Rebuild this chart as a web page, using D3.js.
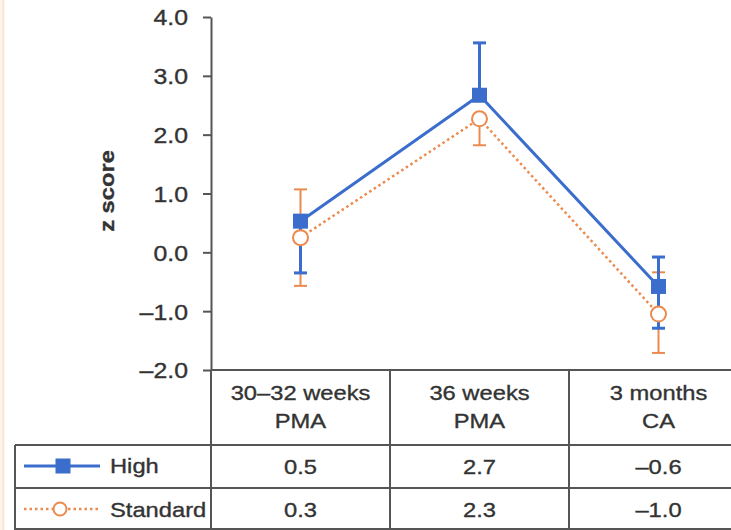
<!DOCTYPE html>
<html>
<head>
<meta charset="utf-8">
<script src="https://cdn.jsdelivr.net/npm/d3@7"></script>
<style>
  html, body { margin: 0; padding: 0; background: #ffffff; }
  svg { display: block; }
</style>
</head>
<body>
<svg id="chart" width="731" height="530"></svg>
<script>
// ---- data ----
const catLine1 = ["30–32 weeks", "36 weeks", "3 months"];
const catLine2 = ["PMA", "PMA", "CA"];
const categories = ["c1", "c2", "c3"];
const highValues = [0.53, 2.67, -0.58];
const highLower  = [-0.35, null, -1.29];
const highUpper  = [null, 3.56, -0.08];
const stdValues  = [0.25, 2.27, -1.05];
const stdLower   = [-0.57, 1.82, -1.71];
const stdUpper   = [1.07, null, -0.34];
const highLabels = ["0.5", "2.7", "–0.6"];
const stdLabels  = ["0.3", "2.3", "–1.0"];
const yTicks = [-2, -1, 0, 1, 2, 3, 4];
const seriesNames = ["High", "Standard"];

// ---- style ----
const BLUE = "#3b6dcc";
const ORANGE = "#ec8a4e";
const AXIS = "#555555";
const TEXT = "#333333";
const FONT = "'Liberation Sans', Arial, Helvetica, sans-serif";
const SX = 1.13;

const svg = d3.select("#chart");

// faint left page edge
svg.append("rect").attr("x", 0).attr("y", 0).attr("width", 5).attr("height", 530).attr("fill", "#fdf4ec");
svg.append("line").attr("x1", 3).attr("x2", 3).attr("y1", 0).attr("y2", 530)
  .attr("stroke", "#f4dcc8").attr("stroke-width", 1);

const x = d3.scaleBand().domain(categories).range([211, 748]).padding(0);
const y = d3.scaleLinear().domain([-2, 4]).range([370, 17]);
const cx = i => x(categories[i]) + x.bandwidth() / 2;

function stext(parent, px, py, str, anchor, size, weight, extra) {
  return parent.append("text")
    .attr("transform", `translate(${px},${py})${extra || ""} scale(${SX},1)`)
    .attr("text-anchor", anchor)
    .attr("font-family", FONT)
    .attr("font-size", size)
    .attr("font-weight", weight || "normal")
    .attr("fill", TEXT)
    .attr("stroke", TEXT)
    .attr("stroke-width", 0.35)
    .text(str);
}

// ---- y axis ----
const fmt = v => (v < 0 ? "–" : "") + Math.abs(v).toFixed(1);
const yAxis = d3.axisLeft(y).tickValues(yTicks).tickFormat(fmt).tickSize(8).tickSizeOuter(0);
const gy = svg.append("g").attr("transform", "translate(211,0)").call(yAxis);
gy.select(".domain").attr("stroke", AXIS).attr("stroke-width", 2);
gy.selectAll(".tick line").attr("stroke", AXIS).attr("stroke-width", 2);
gy.selectAll(".tick text")
  .attr("x", 0)
  .attr("dy", "0.36em")
  .attr("text-anchor", "end")
  .attr("transform", `translate(-23,0) scale(${SX},1)`)
  .attr("font-family", FONT)
  .attr("font-size", 22)
  .attr("fill", TEXT)
  .attr("stroke", TEXT)
  .attr("stroke-width", 0.35);

// y title
stext(svg, 114, 191, "z score", "middle", 21, "bold", " rotate(-90)");

// ---- x axis / table lines ----
const grid = svg.append("g").attr("stroke", AXIS).attr("stroke-width", 2);
grid.append("line").attr("x1", 211).attr("x2", 731).attr("y1", y(-2)).attr("y2", y(-2));
grid.append("line").attr("x1", 15).attr("x2", 731).attr("y1", 445).attr("y2", 445);
grid.append("line").attr("x1", 15).attr("x2", 731).attr("y1", 488).attr("y2", 488);
grid.append("line").attr("x1", 15).attr("x2", 731).attr("y1", 529).attr("y2", 529);
grid.append("line").attr("x1", 15).attr("x2", 15).attr("y1", 445).attr("y2", 530);
categories.forEach(c => {
  grid.append("line").attr("x1", x(c)).attr("x2", x(c)).attr("y1", y(-2)).attr("y2", 530);
});

// header text
categories.forEach((c, i) => {
  stext(svg, cx(i), 400, catLine1[i], "middle", 21);
  stext(svg, cx(i), 428, catLine2[i], "middle", 21);
  stext(svg, cx(i), 474, highLabels[i], "middle", 21);
  stext(svg, cx(i), 517, stdLabels[i], "middle", 21);
});

// legend
svg.append("line").attr("x1", 24).attr("x2", 100).attr("y1", 466).attr("y2", 466)
  .attr("stroke", BLUE).attr("stroke-width", 3);
svg.append("rect").attr("x", 63 - 7.5).attr("y", 466 - 7.5).attr("width", 15).attr("height", 15).attr("fill", BLUE);
stext(svg, 110, 473, seriesNames[0], "start", 21);
svg.append("line").attr("x1", 24).attr("x2", 98).attr("y1", 509).attr("y2", 509)
  .attr("stroke", ORANGE).attr("stroke-width", 2.5).attr("stroke-dasharray", "2.5,3");
svg.append("circle").attr("cx", 60).attr("cy", 509).attr("r", 6.5)
  .attr("fill", "#fff").attr("stroke", ORANGE).attr("stroke-width", 2);
stext(svg, 110, 517, seriesNames[1], "start", 21);

// ---- plot ----
const plot = svg.append("g");
const line = d3.line().x((d, i) => cx(i)).y(d => y(d));

function errorBars(vals, lo, hi, color, w) {
  const g = plot.append("g").attr("stroke", color).attr("stroke-width", w);
  vals.forEach((v, i) => {
    [lo[i], hi[i]].forEach(e => {
      if (e === null) return;
      g.append("line").attr("x1", cx(i)).attr("x2", cx(i)).attr("y1", y(v)).attr("y2", y(e));
      g.append("line").attr("x1", cx(i) - 6.5).attr("x2", cx(i) + 6.5).attr("y1", y(e)).attr("y2", y(e));
    });
  });
}

// standard series (behind)
plot.append("path").datum(stdValues).attr("d", line).attr("fill", "none")
  .attr("stroke", ORANGE).attr("stroke-width", 2.5).attr("stroke-dasharray", "2.5,3");
errorBars(stdValues, stdLower, stdUpper, ORANGE, 2);

// high series
plot.append("path").datum(highValues).attr("d", line).attr("fill", "none")
  .attr("stroke", BLUE).attr("stroke-width", 3);
errorBars(highValues, highLower, highUpper, BLUE, 3);

plot.selectAll("circle.std").data(stdValues).join("circle").attr("class", "std")
  .attr("cx", (d, i) => cx(i)).attr("cy", d => y(d)).attr("r", 7.5)
  .attr("fill", "#fff").attr("stroke", ORANGE).attr("stroke-width", 2);

plot.selectAll("rect.high").data(highValues).join("rect").attr("class", "high")
  .attr("x", (d, i) => cx(i) - 7.5).attr("y", d => y(d) - 7.5)
  .attr("width", 15).attr("height", 15).attr("fill", BLUE);
</script>
</body>
</html>
